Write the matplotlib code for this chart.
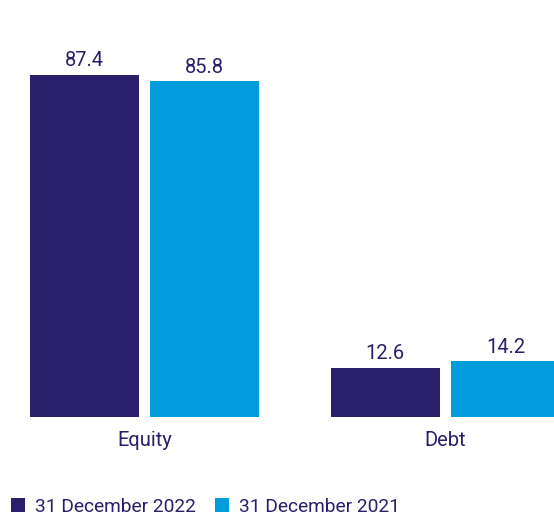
import matplotlib
matplotlib.use("Agg")
import matplotlib.pyplot as plt
import numpy as np

categories = ["Equity", "Debt"]
series_names = ["31 December 2022", "31 December 2021"]
values_2022 = [87.4, 12.6]
values_2021 = [85.8, 14.2]

NAVY = "#2a1f6b"
CYAN = "#009cdc"
plt.rcParams["font.family"] = ["Roboto", "DejaVu Sans"]

fig = plt.figure(figsize=(5.54, 5.17), dpi=100)
ax = fig.add_axes([0, 0.1934, 1, 0.8066])

x = np.arange(len(categories))
width = 0.361
offset = 0.1995

bars1 = ax.bar(x - offset, values_2022, width, color=NAVY, label=series_names[0])
bars2 = ax.bar(x + offset, values_2021, width, color=CYAN, label=series_names[1])

for bars in (bars1, bars2):
    for b in bars:
        ax.text(b.get_x() + b.get_width() / 2, b.get_height() + 1.2, f"{b.get_height():.1f}",
                ha="center", va="bottom", fontsize=14.5, color=NAVY)

ax.set_xlim(-0.480, 1.361)
ax.set_ylim(0, 106.6)
ax.set_xticks(x)
ax.set_xticklabels(categories, fontsize=14.5, color=NAVY)
ax.tick_params(axis="x", length=0, pad=10)
ax.set_yticks([])
for s in ax.spines.values():
    s.set_visible(False)

fig.legend(loc="lower left", bbox_to_anchor=(-0.005, -0.024), ncol=2, frameon=False,
           fontsize=13.8, labelcolor=NAVY, handlelength=0.75, handleheight=0.75,
           handletextpad=0.5, columnspacing=1.0, borderaxespad=0.3)

fig.savefig("out.png", dpi=100)
